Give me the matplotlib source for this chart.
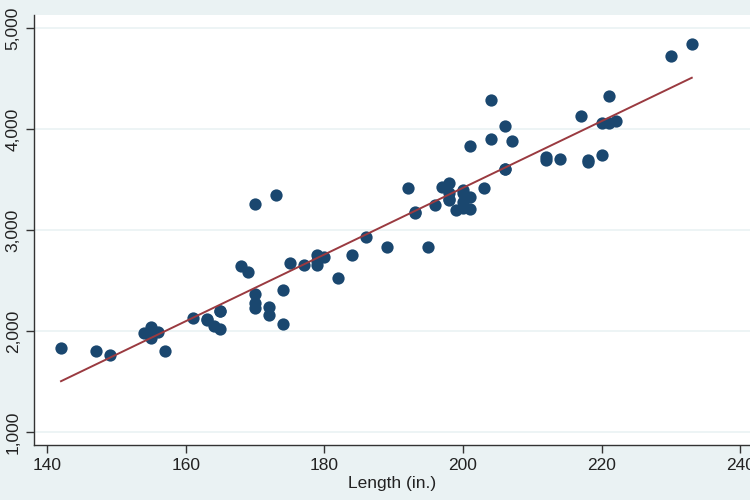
import numpy as np
import matplotlib.pyplot as plt

# auto data: length (in.) and weight (lbs.)
length = [186, 173, 168, 196, 222, 218, 170, 200, 207, 200, 221, 204, 204, 163,
          212, 193, 200, 179, 197, 163, 206, 206, 220, 147, 179, 233, 230, 201,
          169, 221, 212, 198, 217, 195, 220, 198, 198, 218, 200, 180, 206, 170,
          157, 165, 182, 201, 214, 198, 201, 199, 203, 179, 189, 174, 177, 170,
          165, 170, 184, 161, 172, 149, 154, 192, 142, 164, 174, 165, 175, 172,
          155, 155, 156, 193]
weight = [2930, 3350, 2640, 3250, 4080, 3670, 2230, 3280, 3880, 3400, 4330, 3900,
          4290, 2110, 3690, 3180, 3220, 2750, 3430, 2120, 3600, 3600, 3740, 1800,
          2650, 4840, 4720, 3830, 2580, 4060, 3720, 3370, 4130, 2830, 4060, 3310,
          3300, 3690, 3370, 2730, 4030, 3260, 1800, 2200, 2520, 3330, 3700, 3470,
          3210, 3200, 3420, 2690, 2830, 2070, 2650, 2370, 2020, 2280, 2750, 2130,
          2240, 1760, 1980, 3420, 1830, 2050, 2410, 2200, 2670, 2160, 2040, 1930,
          1990, 3170]
xticks = [140, 160, 180, 200, 220, 240]
yticks = [1000, 2000, 3000, 4000, 5000]

plt.rcParams['font.family'] = ['Liberation Sans', 'DejaVu Sans']

bg = '#eaf2f3'
fig = plt.figure(figsize=(7.5, 5), dpi=100, facecolor=bg)
ax = fig.add_axes([0.0453, 0.11, 0.9547, 0.86])
ax.set_facecolor('white')

x = np.array(length, dtype=float)
y = np.array(weight, dtype=float)
b, a = np.polyfit(x, y, 1)
xs = np.array([x.min(), x.max()])

ax.scatter(x, y, s=78, color='#1a476f', zorder=3, linewidths=0)
ax.plot(xs, a + b * xs, color='#9a3a40', lw=1.4, zorder=4)

ax.set_xlim(138.1, 241.4)
ax.set_ylim(871, 5129)
ax.set_xticks(xticks)
ax.set_yticks(yticks)
ax.set_yticklabels([f'{v:,}' for v in yticks], rotation=90, va='center')
ax.grid(axis='y', color=bg, lw=1.2, zorder=0)
ax.tick_params(labelsize=12.5, length=6, width=1, color='#333333', labelcolor='#222222')
for s in ['top', 'right']:
    ax.spines[s].set_visible(False)
for s in ['left', 'bottom']:
    ax.spines[s].set_color('#333333')
    ax.spines[s].set_linewidth(1)

ax.set_xlabel('Length (in.)', fontsize=12.5, color='#222222', labelpad=2)

plt.savefig('out.png', dpi=100, facecolor=bg)
